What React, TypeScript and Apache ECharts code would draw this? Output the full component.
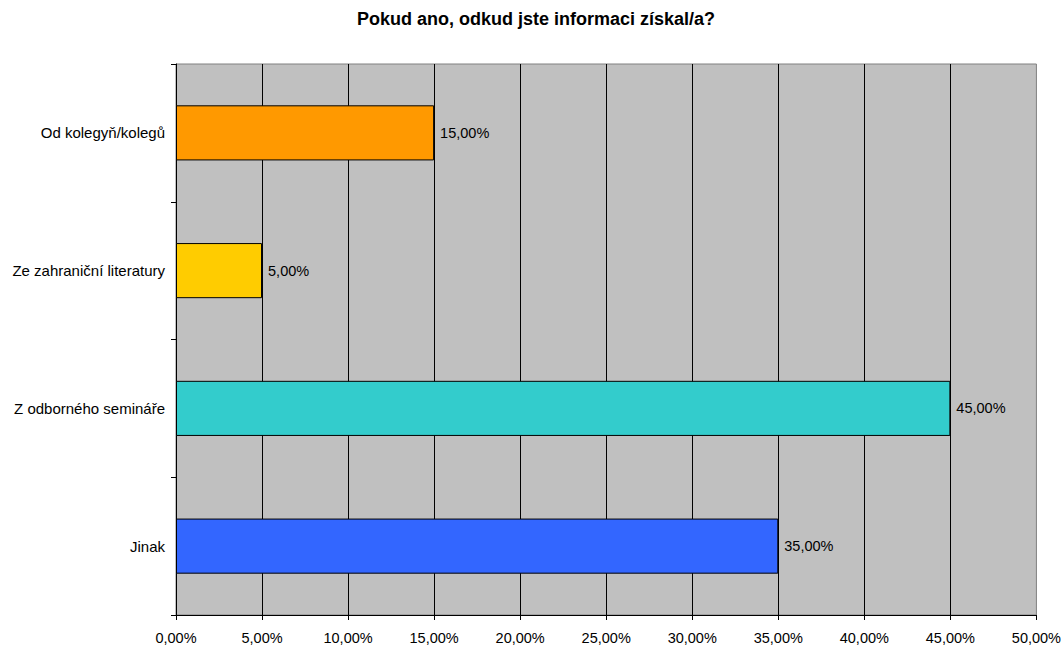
import React, { useEffect, useRef } from "react";
import * as echarts from "echarts";

const categories = ["Jinak", "Z odborného semináře", "Ze zahraniční literatury", "Od kolegyň/kolegů"];
const values = [35, 45, 5, 15];
const barColors = ["#3366FF", "#33CCCC", "#FFCC00", "#FF9900"];
const titleText = "Pokud ano, odkud jste informaci získal/a?";

const fmt = (v: number) => v.toFixed(2).replace(".", ",") + "%";
const FONT = "Liberation Sans, Arial, sans-serif";

export default function App() {
  const ref = useRef<HTMLDivElement>(null);
  useEffect(() => {
    const chart = echarts.init(ref.current!, null, { renderer: "svg" });
    chart.setOption({
      animation: false,
      backgroundColor: "#ffffff",
      textStyle: { fontFamily: FONT },
      title: {
        text: titleText,
        left: 357,
        top: 10,
        padding: 0,
        textStyle: { fontSize: 18, fontWeight: "bold", color: "#000", fontFamily: FONT },
      },
      grid: {
        left: 176,
        right: 25,
        top: 64,
        bottom: 30,
        show: true,
        backgroundColor: "#C0C0C0",
        borderColor: "#808080",
        borderWidth: 1,
      },
      xAxis: {
        type: "value",
        min: 0,
        max: 50,
        interval: 5,
        axisLine: { show: true, lineStyle: { color: "#000", width: 1 } },
        axisTick: { show: true, length: 5, lineStyle: { color: "#000" } },
        axisLabel: { color: "#000", fontSize: 14.5, margin: 15, fontFamily: FONT, formatter: (v: number) => fmt(v) },
        splitLine: { show: true, showMinLine: false, showMaxLine: false, lineStyle: { color: "#000", width: 1 } },
      },
      yAxis: {
        type: "category",
        data: categories,
        axisLine: { show: true, lineStyle: { color: "#000", width: 1 } },
        axisTick: { show: true, length: 5, lineStyle: { color: "#000" } },
        axisLabel: { color: "#000", fontSize: 15, margin: 11, fontFamily: FONT },
        splitLine: { show: false },
      },
      series: [
        {
          type: "bar",
          data: values.map((v, i) => ({
            value: v,
            itemStyle: { color: barColors[i], borderColor: "#000", borderWidth: 1 },
          })),
          barWidth: "40%",
          label: {
            show: true,
            position: "right",
            distance: 6,
            color: "#000",
            fontSize: 14.5,
            fontFamily: FONT,
            formatter: (p: any) => fmt(p.value),
          },
        },
      ],
    });
    return () => chart.dispose();
  }, []);
  return (
    <div
      ref={ref}
      style={{ position: "fixed", left: 0, top: 0, width: 1064, height: 645 }}
    />
  );
}
